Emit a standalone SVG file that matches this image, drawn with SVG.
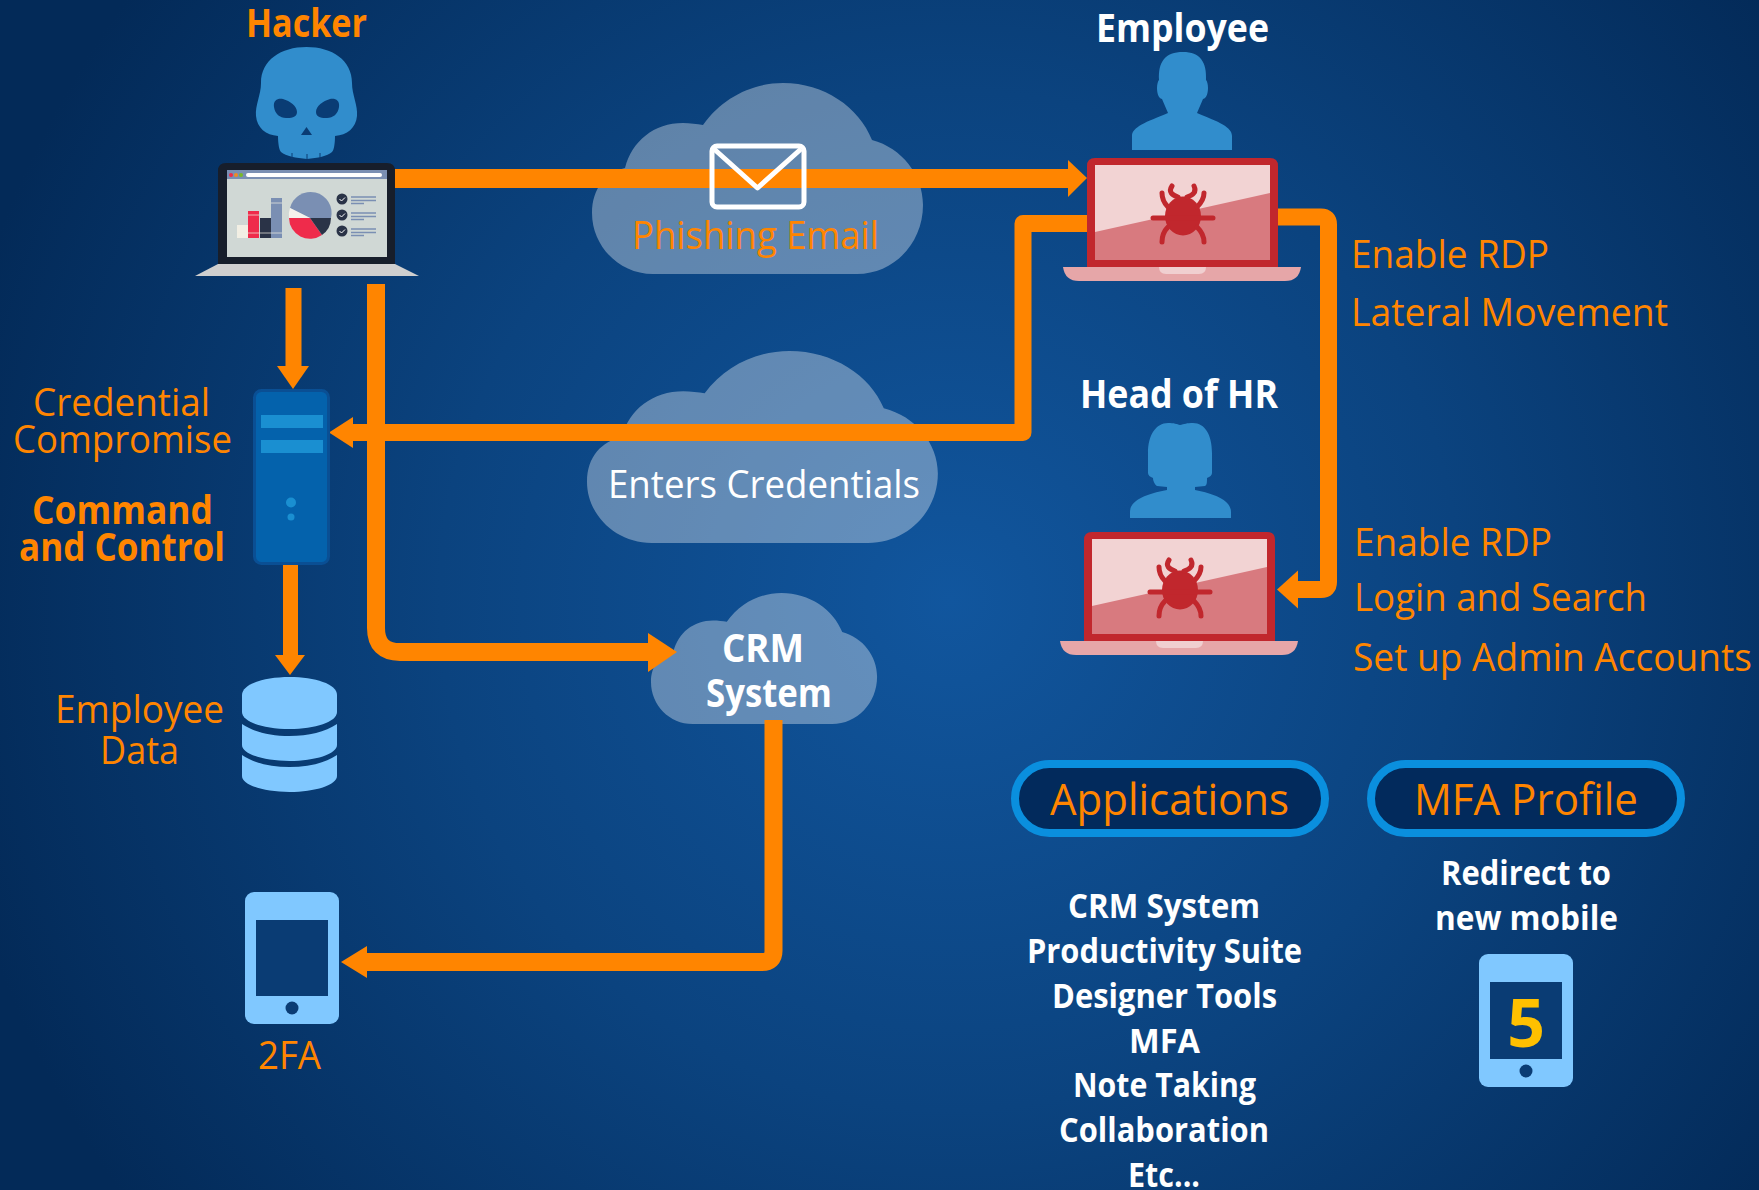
<svg xmlns="http://www.w3.org/2000/svg" xmlns:xlink="http://www.w3.org/1999/xlink" width="1759" height="1190" viewBox="0 0 1759 1190">
<style>
text{font-family:"Open Sans","Noto Sans","Liberation Sans",sans-serif;font-size:38.500px}
.o{fill:#ff8500}.w{fill:#fff}.b{font-weight:700}
.s{font-size:33.500px}.l{font-size:44.500px}
.cn{fill:none;stroke:#ff8500;stroke-linejoin:round}
.h{fill:#ff8500}
.cloud{fill:#fff;fill-opacity:.35}
.lt{fill:#80c8ff}
.p{fill:#318dcc}
.red{fill:#c1272d}
.leg{fill:none;stroke:#c1272d;stroke-width:5;stroke-linecap:round;stroke-linejoin:round}
.pill{fill:#022a5c;stroke:#0a8fde;stroke-width:8}
.dk{fill:#0a3c74}
</style>
<defs>
<radialGradient id="bg" gradientUnits="userSpaceOnUse" cx="950" cy="600" r="1020">
<stop offset="0" stop-color="#11569e"/><stop offset=".5" stop-color="#0b437f"/><stop offset="1" stop-color="#032a58"/>
</radialGradient>
<path id="cl" d="M61 191C27 191 0 163 0 130C0 105 14 90 33 85C40 58 62 40 91 40C98 40 105 41 111 42C130 15 160 0 191 0C232 0 267 24 280 57C310 65 331 92 331 122C331 160 302 191 265 191Z"/>
<g id="bugtop">
<path class="red" d="M1087 267V166Q1087 158 1095 158H1270Q1278 158 1278 166V267Z"/>
<rect x="1095" y="165" width="175" height="95" fill="#f2d3d3"/>
<path d="M1095 232L1270 193V260H1095Z" fill="#d87a7f"/>
<path d="M1063 267H1301Q1299 281 1285 281H1079Q1065 281 1063 267Z" fill="#e6a6a8"/>
<path d="M1159 267H1206Q1206 274 1199 274H1166Q1159 274 1159 267Z" fill="#f0cfd0"/>
<ellipse class="red" cx="1183" cy="216" rx="18" ry="19.500"/>
<path class="leg" d="M1153 218H1213M1168 207C1164 203 1162 198 1162 193M1197 207C1201 203 1204 198 1204 193M1178 197C1172 195 1168 192 1172 186M1187 197C1193 195 1197 192 1194 186M1168 227C1164 231 1162 236 1162 242M1197 227C1201 231 1204 236 1204 242"/>
</g>
</defs>
<rect width="1759" height="1190" fill="url(#bg)"/>

<g id="cloud-phishing"><use href="#cl" class="cloud" transform="translate(592 83)"/></g>
<g id="cloud-credentials"><use href="#cl" class="cloud" transform="translate(587 351) scale(1.06 1.005)"/></g>
<g id="cloud-crm"><use href="#cl" class="cloud" transform="translate(651 593) scale(.683 .686)"/></g>

<g id="connectors">
<path class="cn" stroke-width="19" d="M395 178.500H1070"/><polygon class="h" points="1087,178 1068,160 1068,197"/>
<path class="cn" stroke-width="17" d="M1087 223.500H1023V432.500H350"/><polygon class="h" points="329,432.500 353,417 353,448"/>
<path class="cn" stroke-width="17" d="M1278 217H1321Q1328.500 217 1328.500 224.500V582Q1328.500 589.500 1321 589.500H1296"/><polygon class="h" points="1277,589.500 1298,570.500 1298,608.500"/>
<path class="cn" stroke-width="16" d="M293.500 288V368"/><polygon class="h" points="293,389 277,366 309,366"/>
<path class="cn" stroke-width="18" d="M376 284V628Q376 652 400 652H650"/><polygon class="h" points="677,652 648,633 648,672"/>
<path class="cn" stroke-width="15" d="M290.500 565V657"/><polygon class="h" points="290,675 275,655 305,655"/>
<path class="cn" stroke-width="18" d="M773.500 720V951Q773.500 962 762 962H365"/><polygon class="h" points="341,962 367,946 367,978"/>
</g>

<g id="envelope"><rect x="712" y="146" width="92" height="61" rx="5" fill="none" stroke="#fff" stroke-width="5"/><path d="M714 149L757.500 188L801 149" fill="none" stroke="#fff" stroke-width="5" stroke-linejoin="round"/></g>
<text class="o" x="632" y="249" textLength="247" lengthAdjust="spacingAndGlyphs">Phishing Email</text>
<text class="w" x="608" y="498" textLength="312" lengthAdjust="spacingAndGlyphs">Enters Credentials</text>
<text class="w b" x="722" y="662" textLength="82" lengthAdjust="spacingAndGlyphs">CRM</text>
<text class="w b" x="706" y="707" textLength="126" lengthAdjust="spacingAndGlyphs">System</text>

<g id="hacker">
<text class="o b" x="246" y="37" textLength="121" lengthAdjust="spacingAndGlyphs">Hacker</text>
<path class="p" d="M306.500 47C332 47 352 60 352 83C352 95 358 105 357 116C356 128 347 135 335 136C335 143 334 150 332 152C327 156 318 158 307 159C296 158 286 156 281 152C279 150 278 143 278 136C266 135 257 128 256 116C255 105 261 95 261 83C261 60 281 47 306.500 47Z"/>
<path class="dk" d="M274 107C273 100 278 98 283 99C290 101 297 106 297 112C297 118 290 118 286 118C280 118 275 114 274 107ZM339 107C340 100 335 98 330 99C323 101 316 106 316 112C316 118 323 118 327 118C333 118 338 114 339 107ZM306.500 127L301 135H312Z"/>
<path d="M292 153V159M307 154V159M320 153V158" stroke="#0a3c74" stroke-width="1"/>
<path d="M218 264V171Q218 163 226 163H387Q395 163 395 171V264Z" fill="#171e2b"/>
<polygon points="218,264 395,264 419,276 195,276" fill="#cfcfcf"/>
<rect x="227" y="170" width="160" height="87" fill="#d0d8d5"/>
<rect x="227" y="170" width="160" height="9" fill="#7a8fb3"/>
<rect x="246" y="173" width="136" height="4" rx="2" fill="#fff"/>
<circle cx="231" cy="175" r="2" fill="#ef2b4b"/><circle cx="236" cy="175" r="2" fill="#f08a24"/><circle cx="241" cy="175" r="2" fill="#7ab928"/>
<rect x="237" y="225" width="11" height="13" fill="#f2efe4"/>
<rect x="248" y="211" width="11" height="27" fill="#ef2b4b"/>
<rect x="260" y="218" width="11" height="20" fill="#2a3347"/>
<rect x="271" y="198" width="11" height="40" fill="#7a8fb3"/>
<path d="M237 233H282M248 215H259M271 203H282" stroke="#f2efe4" stroke-width=".7"/>
<path d="M310 218L331 218A21 21 0 0 0 290 208Z" fill="#7a8fb3"/>
<path d="M310 218L290 208A21 21 0 0 0 289 218Z" fill="#f5f2ec"/>
<path d="M310 218L289 218A21 21 0 0 0 322 235Z" fill="#ef2b4b"/>
<path d="M310 218L322 235A21 21 0 0 0 331 218Z" fill="#2a3347"/>
<g fill="#2a3347"><circle cx="342" cy="199" r="5.500"/><circle cx="342" cy="215" r="5.500"/><circle cx="342" cy="231" r="5.500"/></g>
<path d="M339.500 199L341.500 201L345 197.500M339.500 215L341.500 217L345 213.500M339.500 231L341.500 233L345 229.500" fill="none" stroke="#fff" stroke-width="1"/>
<path d="M351 197H376M351 200.500H376M351 203.500H364M351 213H376M351 216.500H376M351 219.500H364M351 229H376M351 232.500H376M351 235.500H364" stroke="#7a8fb3" stroke-width="1.600"/>
</g>

<g id="employee">
<text class="w b" x="1096" y="42" textLength="173" lengthAdjust="spacingAndGlyphs">Employee</text>
<path class="p" d="M1132 150V136C1132 127 1146 122 1168 113L1162 99C1158 98 1157 92 1157 88C1157 84 1158 81 1159 80C1158 62 1165 52 1183 52C1200 52 1207 62 1206 80C1207 81 1208 84 1208 88C1208 92 1207 98 1203 99L1197 113C1219 122 1232 127 1232 136V150Z"/>
<use href="#bugtop"/>
</g>
<text class="o" x="1351" y="268" textLength="198" lengthAdjust="spacingAndGlyphs">Enable RDP</text>
<text class="o" x="1351" y="326" textLength="317" lengthAdjust="spacingAndGlyphs">Lateral Movement</text>

<g id="head-of-hr">
<text class="w b" x="1080" y="408" textLength="198" lengthAdjust="spacingAndGlyphs">Head of HR</text>
<path class="p" d="M1130 518V512C1130 500 1146 494 1167 490V487L1157 486C1155 485 1153 481 1153 478C1150 477 1148 475 1148 473V453C1148 435 1156 423 1168 423C1174 423 1177 424 1180 425C1184 424 1187 423 1193 423C1205 423 1212 435 1212 453V473C1212 475 1210 477 1207 478C1207 482 1207 485 1205 486L1195 487V490C1215 494 1231 500 1231 512V518Z"/>
<use href="#bugtop" transform="translate(-3 374)"/>
</g>
<text class="o" x="1354" y="556" textLength="198" lengthAdjust="spacingAndGlyphs">Enable RDP</text>
<text class="o" x="1354" y="611" textLength="293" lengthAdjust="spacingAndGlyphs">Login and Search</text>
<text class="o" x="1353" y="671" textLength="399" lengthAdjust="spacingAndGlyphs">Set up Admin Accounts</text>

<g id="server">
<rect x="254.500" y="390.500" width="74" height="173" rx="7" fill="#0462ac" stroke="#0a4f94" stroke-width="3"/>
<g fill="#1a8fd1"><rect x="261" y="415" width="62" height="13"/><rect x="261" y="440" width="62" height="13"/><circle cx="291" cy="502.500" r="5"/><circle cx="291" cy="517" r="3.500"/></g>
</g>
<text class="o" x="33" y="416" textLength="177" lengthAdjust="spacingAndGlyphs">Credential</text>
<text class="o" x="13" y="453" textLength="219" lengthAdjust="spacingAndGlyphs">Compromise</text>
<text class="o b" x="32" y="524" textLength="181" lengthAdjust="spacingAndGlyphs">Command</text>
<text class="o b" x="19" y="561" textLength="206" lengthAdjust="spacingAndGlyphs">and Control</text>

<g id="database">
<path class="lt" d="M242 695C242 684 264 677 289.500 677C315 677 337 684 337 695V712C337 722 315 729 289.500 729C264 729 242 722 242 712Z"/>
<path id="dbm" class="lt" d="M242 724C254 732 270 736 289.500 736C309 736 325 732 337 724V745C337 754 315 761 289.500 761C264 761 242 754 242 745Z"/>
<use href="#dbm" transform="translate(0 31)"/>
</g>
<text class="o" x="55" y="723" textLength="169" lengthAdjust="spacingAndGlyphs">Employee</text>
<text class="o" x="100" y="764" textLength="79" lengthAdjust="spacingAndGlyphs">Data</text>

<g id="tablet">
<rect class="lt" x="245" y="892" width="94" height="132" rx="9"/>
<rect class="dk" x="256" y="920" width="72" height="76"/>
<circle class="dk" cx="292" cy="1008" r="6.500"/>
</g>
<text class="o" x="258" y="1069" textLength="63" lengthAdjust="spacingAndGlyphs">2FA</text>

<g id="applications">
<rect class="pill" x="1015" y="764" width="310" height="69" rx="34.500"/>
<text class="o l" x="1050" y="815" textLength="239" lengthAdjust="spacingAndGlyphs">Applications</text>
<text class="w b s" x="1068" y="918" textLength="192" lengthAdjust="spacingAndGlyphs">CRM System</text>
<text class="w b s" x="1027" y="963" textLength="275" lengthAdjust="spacingAndGlyphs">Productivity Suite</text>
<text class="w b s" x="1052" y="1008" textLength="225" lengthAdjust="spacingAndGlyphs">Designer Tools</text>
<text class="w b s" x="1129" y="1053" textLength="71" lengthAdjust="spacingAndGlyphs">MFA</text>
<text class="w b s" x="1073" y="1097" textLength="183" lengthAdjust="spacingAndGlyphs">Note Taking</text>
<text class="w b s" x="1059" y="1142" textLength="210" lengthAdjust="spacingAndGlyphs">Collaboration</text>
<text class="w b s" x="1128" y="1187" textLength="72" lengthAdjust="spacingAndGlyphs">Etc...</text>
</g>

<g id="mfa-profile">
<rect class="pill" x="1371" y="764" width="310" height="69" rx="34.500"/>
<text class="o l" x="1414" y="815" textLength="224" lengthAdjust="spacingAndGlyphs">MFA Profile</text>
<text class="w b s" x="1441" y="885" textLength="170" lengthAdjust="spacingAndGlyphs">Redirect to</text>
<text class="w b s" x="1435" y="930" textLength="183" lengthAdjust="spacingAndGlyphs">new mobile</text>
<rect class="lt" x="1479" y="954" width="94" height="133" rx="9"/>
<rect class="dk" x="1490" y="982" width="72" height="77"/>
<circle class="dk" cx="1526" cy="1071" r="6.500"/>
<text x="1526" y="1047" text-anchor="middle" fill="#ffc000" style="font-size:66px;font-weight:700">5</text>
</g>
</svg>
